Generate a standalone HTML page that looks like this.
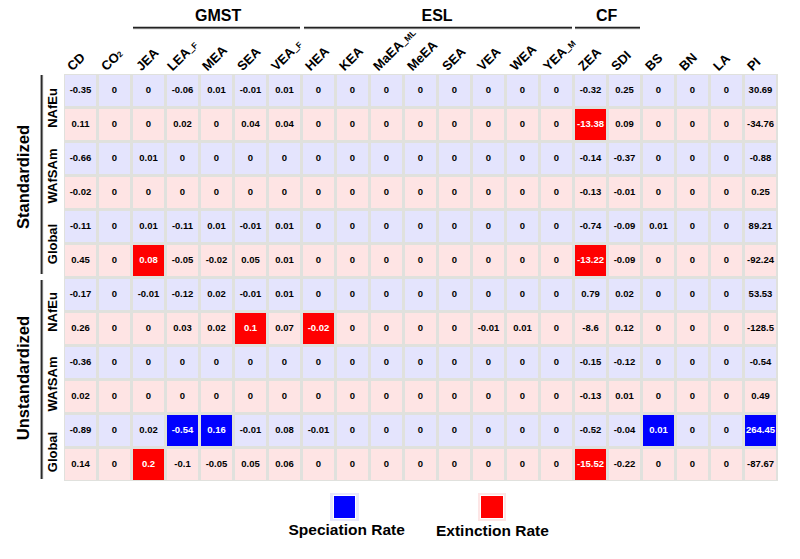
<!DOCTYPE html>
<html><head><meta charset="utf-8"><style>
*{margin:0;padding:0;box-sizing:border-box}
html,body{width:800px;height:559px;background:#fff;overflow:hidden}
body{position:relative;font-family:"Liberation Sans",sans-serif;color:#000}
.a{position:absolute}
.grid{position:absolute;left:64px;top:74px;width:714px;height:407px;background:#e0e1dd}
.c{position:absolute;width:31px;height:31px;font-weight:bold;font-size:9.5px;line-height:30px;text-align:center;color:#000}

.b{background:#e4e4fd}.p{background:#fee4e4}
.R{background:#ff0000;color:#fff}.B{background:#0000ff;color:#fff}
.hl{position:absolute;height:4px;top:26px;background:linear-gradient(180deg,#c4c4c4 0 1px,#222 1px 2px,#787878 2px 3px,#ececec 3px 4px)}
.vl{position:absolute;width:4px;left:40px;background:linear-gradient(90deg,#a8a8a8 0 1px,#2a2a2a 1px 2px,#7a7a7a 2px 3px,#eeeeee 3px 4px)}
.gt{position:absolute;font-weight:bold;font-size:16px;line-height:1;top:7.5px}
.cl{position:absolute;font-weight:bold;font-size:13px;line-height:1;white-space:nowrap;transform-origin:0 100%;transform:rotate(-45deg)}
.sm{font-size:8.5px;vertical-align:0.5px;margin-left:0.5px}
.us{-webkit-text-stroke:0.35px #000}
.sup2{font-size:8px;vertical-align:0px}
.rl{position:absolute;font-weight:bold;font-size:13px;line-height:1;white-space:nowrap;transform-origin:0 0;transform:rotate(-90deg);text-align:center}
.gl{position:absolute;font-weight:bold;font-size:16.6px;line-height:1;white-space:nowrap;transform-origin:0 0;transform:rotate(-90deg);text-align:center}
.lg{position:absolute;font-weight:bold;font-size:15.5px;line-height:1;white-space:nowrap}
</style></head><body>

<div class="gt" style="left:195px">GMST</div>
<div class="hl" style="left:133px;width:167px"></div>
<div class="gt" style="left:421.5px">ESL</div>
<div class="hl" style="left:304px;width:268px"></div>
<div class="gt" style="left:596px">CF</div>
<div class="hl" style="left:575px;width:65px"></div>
<div class="cl" style="left:73.5px;top:60px">CD</div>
<div class="cl" style="left:107.5px;top:60px">CO<span class='sup2'>2</span></div>
<div class="cl" style="left:142.5px;top:60px">JEA</div>
<div class="cl" style="left:174.0px;top:60px">LEA<span class='sm'><span class='us'>_</span>F</span></div>
<div class="cl" style="left:208.5px;top:60px">MEA</div>
<div class="cl" style="left:243.5px;top:60px">SEA</div>
<div class="cl" style="left:277.5px;top:60px">VEA<span class='sm'><span class='us'>_</span>F</span></div>
<div class="cl" style="left:311.5px;top:60px">HEA</div>
<div class="cl" style="left:345.5px;top:60px">KEA</div>
<div class="cl" style="left:379.5px;top:60px">MaEA<span class='sm'><span class='us'>_</span>ML</span></div>
<div class="cl" style="left:413.5px;top:60px">MeEA</div>
<div class="cl" style="left:449.0px;top:60px">SEA</div>
<div class="cl" style="left:484.0px;top:60px">VEA</div>
<div class="cl" style="left:516.5px;top:60px">WEA</div>
<div class="cl" style="left:550.3px;top:60px">YEA<span class='sm'><span class='us'>_</span>M</span></div>
<div class="cl" style="left:584.7px;top:60px">ZEA</div>
<div class="cl" style="left:617.5px;top:60px">SDI</div>
<div class="cl" style="left:651.5px;top:60px">BS</div>
<div class="cl" style="left:685.5px;top:60px">BN</div>
<div class="cl" style="left:719.5px;top:60px">LA</div>
<div class="cl" style="left:753.5px;top:60px">PI</div>
<div class="grid"></div>
<div class="c b" style="left:65px;top:75px">-0.35</div>
<div class="c b" style="left:99px;top:75px">0</div>
<div class="c b" style="left:133px;top:75px">0</div>
<div class="c b" style="left:167px;top:75px">-0.06</div>
<div class="c b" style="left:201px;top:75px">0.01</div>
<div class="c b" style="left:235px;top:75px">-0.01</div>
<div class="c b" style="left:269px;top:75px">0.01</div>
<div class="c b" style="left:303px;top:75px">0</div>
<div class="c b" style="left:337px;top:75px">0</div>
<div class="c b" style="left:371px;top:75px">0</div>
<div class="c b" style="left:405px;top:75px">0</div>
<div class="c b" style="left:439px;top:75px">0</div>
<div class="c b" style="left:473px;top:75px">0</div>
<div class="c b" style="left:507px;top:75px">0</div>
<div class="c b" style="left:541px;top:75px">0</div>
<div class="c b" style="left:575px;top:75px">-0.32</div>
<div class="c b" style="left:609px;top:75px">0.25</div>
<div class="c b" style="left:643px;top:75px">0</div>
<div class="c b" style="left:677px;top:75px">0</div>
<div class="c b" style="left:711px;top:75px">0</div>
<div class="c b" style="left:745px;top:75px">30.69</div>
<div class="c p" style="left:65px;top:109px">0.11</div>
<div class="c p" style="left:99px;top:109px">0</div>
<div class="c p" style="left:133px;top:109px">0</div>
<div class="c p" style="left:167px;top:109px">0.02</div>
<div class="c p" style="left:201px;top:109px">0</div>
<div class="c p" style="left:235px;top:109px">0.04</div>
<div class="c p" style="left:269px;top:109px">0.04</div>
<div class="c p" style="left:303px;top:109px">0</div>
<div class="c p" style="left:337px;top:109px">0</div>
<div class="c p" style="left:371px;top:109px">0</div>
<div class="c p" style="left:405px;top:109px">0</div>
<div class="c p" style="left:439px;top:109px">0</div>
<div class="c p" style="left:473px;top:109px">0</div>
<div class="c p" style="left:507px;top:109px">0</div>
<div class="c p" style="left:541px;top:109px">0</div>
<div class="c R" style="left:575px;top:109px">-13.38</div>
<div class="c p" style="left:609px;top:109px">0.09</div>
<div class="c p" style="left:643px;top:109px">0</div>
<div class="c p" style="left:677px;top:109px">0</div>
<div class="c p" style="left:711px;top:109px">0</div>
<div class="c p" style="left:745px;top:109px">-34.76</div>
<div class="c b" style="left:65px;top:143px">-0.66</div>
<div class="c b" style="left:99px;top:143px">0</div>
<div class="c b" style="left:133px;top:143px">0.01</div>
<div class="c b" style="left:167px;top:143px">0</div>
<div class="c b" style="left:201px;top:143px">0</div>
<div class="c b" style="left:235px;top:143px">0</div>
<div class="c b" style="left:269px;top:143px">0</div>
<div class="c b" style="left:303px;top:143px">0</div>
<div class="c b" style="left:337px;top:143px">0</div>
<div class="c b" style="left:371px;top:143px">0</div>
<div class="c b" style="left:405px;top:143px">0</div>
<div class="c b" style="left:439px;top:143px">0</div>
<div class="c b" style="left:473px;top:143px">0</div>
<div class="c b" style="left:507px;top:143px">0</div>
<div class="c b" style="left:541px;top:143px">0</div>
<div class="c b" style="left:575px;top:143px">-0.14</div>
<div class="c b" style="left:609px;top:143px">-0.37</div>
<div class="c b" style="left:643px;top:143px">0</div>
<div class="c b" style="left:677px;top:143px">0</div>
<div class="c b" style="left:711px;top:143px">0</div>
<div class="c b" style="left:745px;top:143px">-0.88</div>
<div class="c p" style="left:65px;top:177px">-0.02</div>
<div class="c p" style="left:99px;top:177px">0</div>
<div class="c p" style="left:133px;top:177px">0</div>
<div class="c p" style="left:167px;top:177px">0</div>
<div class="c p" style="left:201px;top:177px">0</div>
<div class="c p" style="left:235px;top:177px">0</div>
<div class="c p" style="left:269px;top:177px">0</div>
<div class="c p" style="left:303px;top:177px">0</div>
<div class="c p" style="left:337px;top:177px">0</div>
<div class="c p" style="left:371px;top:177px">0</div>
<div class="c p" style="left:405px;top:177px">0</div>
<div class="c p" style="left:439px;top:177px">0</div>
<div class="c p" style="left:473px;top:177px">0</div>
<div class="c p" style="left:507px;top:177px">0</div>
<div class="c p" style="left:541px;top:177px">0</div>
<div class="c p" style="left:575px;top:177px">-0.13</div>
<div class="c p" style="left:609px;top:177px">-0.01</div>
<div class="c p" style="left:643px;top:177px">0</div>
<div class="c p" style="left:677px;top:177px">0</div>
<div class="c p" style="left:711px;top:177px">0</div>
<div class="c p" style="left:745px;top:177px">0.25</div>
<div class="c b" style="left:65px;top:211px">-0.11</div>
<div class="c b" style="left:99px;top:211px">0</div>
<div class="c b" style="left:133px;top:211px">0.01</div>
<div class="c b" style="left:167px;top:211px">-0.11</div>
<div class="c b" style="left:201px;top:211px">0.01</div>
<div class="c b" style="left:235px;top:211px">-0.01</div>
<div class="c b" style="left:269px;top:211px">0.01</div>
<div class="c b" style="left:303px;top:211px">0</div>
<div class="c b" style="left:337px;top:211px">0</div>
<div class="c b" style="left:371px;top:211px">0</div>
<div class="c b" style="left:405px;top:211px">0</div>
<div class="c b" style="left:439px;top:211px">0</div>
<div class="c b" style="left:473px;top:211px">0</div>
<div class="c b" style="left:507px;top:211px">0</div>
<div class="c b" style="left:541px;top:211px">0</div>
<div class="c b" style="left:575px;top:211px">-0.74</div>
<div class="c b" style="left:609px;top:211px">-0.09</div>
<div class="c b" style="left:643px;top:211px">0.01</div>
<div class="c b" style="left:677px;top:211px">0</div>
<div class="c b" style="left:711px;top:211px">0</div>
<div class="c b" style="left:745px;top:211px">89.21</div>
<div class="c p" style="left:65px;top:245px">0.45</div>
<div class="c p" style="left:99px;top:245px">0</div>
<div class="c R" style="left:133px;top:245px">0.08</div>
<div class="c p" style="left:167px;top:245px">-0.05</div>
<div class="c p" style="left:201px;top:245px">-0.02</div>
<div class="c p" style="left:235px;top:245px">0.05</div>
<div class="c p" style="left:269px;top:245px">0.01</div>
<div class="c p" style="left:303px;top:245px">0</div>
<div class="c p" style="left:337px;top:245px">0</div>
<div class="c p" style="left:371px;top:245px">0</div>
<div class="c p" style="left:405px;top:245px">0</div>
<div class="c p" style="left:439px;top:245px">0</div>
<div class="c p" style="left:473px;top:245px">0</div>
<div class="c p" style="left:507px;top:245px">0</div>
<div class="c p" style="left:541px;top:245px">0</div>
<div class="c R" style="left:575px;top:245px">-13.22</div>
<div class="c p" style="left:609px;top:245px">-0.09</div>
<div class="c p" style="left:643px;top:245px">0</div>
<div class="c p" style="left:677px;top:245px">0</div>
<div class="c p" style="left:711px;top:245px">0</div>
<div class="c p" style="left:745px;top:245px">-92.24</div>
<div class="c b" style="left:65px;top:279px">-0.17</div>
<div class="c b" style="left:99px;top:279px">0</div>
<div class="c b" style="left:133px;top:279px">-0.01</div>
<div class="c b" style="left:167px;top:279px">-0.12</div>
<div class="c b" style="left:201px;top:279px">0.02</div>
<div class="c b" style="left:235px;top:279px">-0.01</div>
<div class="c b" style="left:269px;top:279px">0.01</div>
<div class="c b" style="left:303px;top:279px">0</div>
<div class="c b" style="left:337px;top:279px">0</div>
<div class="c b" style="left:371px;top:279px">0</div>
<div class="c b" style="left:405px;top:279px">0</div>
<div class="c b" style="left:439px;top:279px">0</div>
<div class="c b" style="left:473px;top:279px">0</div>
<div class="c b" style="left:507px;top:279px">0</div>
<div class="c b" style="left:541px;top:279px">0</div>
<div class="c b" style="left:575px;top:279px">0.79</div>
<div class="c b" style="left:609px;top:279px">0.02</div>
<div class="c b" style="left:643px;top:279px">0</div>
<div class="c b" style="left:677px;top:279px">0</div>
<div class="c b" style="left:711px;top:279px">0</div>
<div class="c b" style="left:745px;top:279px">53.53</div>
<div class="c p" style="left:65px;top:313px">0.26</div>
<div class="c p" style="left:99px;top:313px">0</div>
<div class="c p" style="left:133px;top:313px">0</div>
<div class="c p" style="left:167px;top:313px">0.03</div>
<div class="c p" style="left:201px;top:313px">0.02</div>
<div class="c R" style="left:235px;top:313px">0.1</div>
<div class="c p" style="left:269px;top:313px">0.07</div>
<div class="c R" style="left:303px;top:313px">-0.02</div>
<div class="c p" style="left:337px;top:313px">0</div>
<div class="c p" style="left:371px;top:313px">0</div>
<div class="c p" style="left:405px;top:313px">0</div>
<div class="c p" style="left:439px;top:313px">0</div>
<div class="c p" style="left:473px;top:313px">-0.01</div>
<div class="c p" style="left:507px;top:313px">0.01</div>
<div class="c p" style="left:541px;top:313px">0</div>
<div class="c p" style="left:575px;top:313px">-8.6</div>
<div class="c p" style="left:609px;top:313px">0.12</div>
<div class="c p" style="left:643px;top:313px">0</div>
<div class="c p" style="left:677px;top:313px">0</div>
<div class="c p" style="left:711px;top:313px">0</div>
<div class="c p" style="left:745px;top:313px">-128.5</div>
<div class="c b" style="left:65px;top:347px">-0.36</div>
<div class="c b" style="left:99px;top:347px">0</div>
<div class="c b" style="left:133px;top:347px">0</div>
<div class="c b" style="left:167px;top:347px">0</div>
<div class="c b" style="left:201px;top:347px">0</div>
<div class="c b" style="left:235px;top:347px">0</div>
<div class="c b" style="left:269px;top:347px">0</div>
<div class="c b" style="left:303px;top:347px">0</div>
<div class="c b" style="left:337px;top:347px">0</div>
<div class="c b" style="left:371px;top:347px">0</div>
<div class="c b" style="left:405px;top:347px">0</div>
<div class="c b" style="left:439px;top:347px">0</div>
<div class="c b" style="left:473px;top:347px">0</div>
<div class="c b" style="left:507px;top:347px">0</div>
<div class="c b" style="left:541px;top:347px">0</div>
<div class="c b" style="left:575px;top:347px">-0.15</div>
<div class="c b" style="left:609px;top:347px">-0.12</div>
<div class="c b" style="left:643px;top:347px">0</div>
<div class="c b" style="left:677px;top:347px">0</div>
<div class="c b" style="left:711px;top:347px">0</div>
<div class="c b" style="left:745px;top:347px">-0.54</div>
<div class="c p" style="left:65px;top:381px">0.02</div>
<div class="c p" style="left:99px;top:381px">0</div>
<div class="c p" style="left:133px;top:381px">0</div>
<div class="c p" style="left:167px;top:381px">0</div>
<div class="c p" style="left:201px;top:381px">0</div>
<div class="c p" style="left:235px;top:381px">0</div>
<div class="c p" style="left:269px;top:381px">0</div>
<div class="c p" style="left:303px;top:381px">0</div>
<div class="c p" style="left:337px;top:381px">0</div>
<div class="c p" style="left:371px;top:381px">0</div>
<div class="c p" style="left:405px;top:381px">0</div>
<div class="c p" style="left:439px;top:381px">0</div>
<div class="c p" style="left:473px;top:381px">0</div>
<div class="c p" style="left:507px;top:381px">0</div>
<div class="c p" style="left:541px;top:381px">0</div>
<div class="c p" style="left:575px;top:381px">-0.13</div>
<div class="c p" style="left:609px;top:381px">0.01</div>
<div class="c p" style="left:643px;top:381px">0</div>
<div class="c p" style="left:677px;top:381px">0</div>
<div class="c p" style="left:711px;top:381px">0</div>
<div class="c p" style="left:745px;top:381px">0.49</div>
<div class="c b" style="left:65px;top:415px">-0.89</div>
<div class="c b" style="left:99px;top:415px">0</div>
<div class="c b" style="left:133px;top:415px">0.02</div>
<div class="c B" style="left:167px;top:415px">-0.54</div>
<div class="c B" style="left:201px;top:415px">0.16</div>
<div class="c b" style="left:235px;top:415px">-0.01</div>
<div class="c b" style="left:269px;top:415px">0.08</div>
<div class="c b" style="left:303px;top:415px">-0.01</div>
<div class="c b" style="left:337px;top:415px">0</div>
<div class="c b" style="left:371px;top:415px">0</div>
<div class="c b" style="left:405px;top:415px">0</div>
<div class="c b" style="left:439px;top:415px">0</div>
<div class="c b" style="left:473px;top:415px">0</div>
<div class="c b" style="left:507px;top:415px">0</div>
<div class="c b" style="left:541px;top:415px">0</div>
<div class="c b" style="left:575px;top:415px">-0.52</div>
<div class="c b" style="left:609px;top:415px">-0.04</div>
<div class="c B" style="left:643px;top:415px">0.01</div>
<div class="c b" style="left:677px;top:415px">0</div>
<div class="c b" style="left:711px;top:415px">0</div>
<div class="c B" style="left:745px;top:415px">264.45</div>
<div class="c p" style="left:65px;top:449px">0.14</div>
<div class="c p" style="left:99px;top:449px">0</div>
<div class="c R" style="left:133px;top:449px">0.2</div>
<div class="c p" style="left:167px;top:449px">-0.1</div>
<div class="c p" style="left:201px;top:449px">-0.05</div>
<div class="c p" style="left:235px;top:449px">0.05</div>
<div class="c p" style="left:269px;top:449px">0.06</div>
<div class="c p" style="left:303px;top:449px">0</div>
<div class="c p" style="left:337px;top:449px">0</div>
<div class="c p" style="left:371px;top:449px">0</div>
<div class="c p" style="left:405px;top:449px">0</div>
<div class="c p" style="left:439px;top:449px">0</div>
<div class="c p" style="left:473px;top:449px">0</div>
<div class="c p" style="left:507px;top:449px">0</div>
<div class="c p" style="left:541px;top:449px">0</div>
<div class="c R" style="left:575px;top:449px">-15.52</div>
<div class="c p" style="left:609px;top:449px">-0.22</div>
<div class="c p" style="left:643px;top:449px">0</div>
<div class="c p" style="left:677px;top:449px">0</div>
<div class="c p" style="left:711px;top:449px">0</div>
<div class="c p" style="left:745px;top:449px">-87.67</div>
<div class="rl" style="left:46.4px;top:147.5px;width:80px">NAfEu</div>
<div class="rl" style="left:46.4px;top:215.5px;width:80px">WAfSAm</div>
<div class="rl" style="left:46.4px;top:283.5px;width:80px">Global</div>
<div class="rl" style="left:46.4px;top:351.5px;width:80px">NAfEu</div>
<div class="rl" style="left:46.4px;top:423.5px;width:80px">WAfSAm</div>
<div class="rl" style="left:46.4px;top:491.5px;width:80px">Global</div>
<div class="gl" style="left:15.8px;top:277.2px;width:200px">Standardized</div>
<div class="gl" style="left:15.8px;top:478.4px;width:200px">Unstandardized</div>
<div class="vl" style="top:75px;height:199px"></div>
<div class="vl" style="top:280px;height:199px"></div>
<div class="a" style="left:330px;top:493px;width:29px;height:28px;background:#e8e8fc"></div>
<div class="a" style="left:333px;top:495px;width:23px;height:24px;background:#fff"></div>
<div class="a" style="left:334px;top:496px;width:21px;height:22px;background:#0000ff"></div>
<div class="a" style="left:478px;top:493px;width:28px;height:28px;background:#fde6e6"></div>
<div class="a" style="left:480px;top:495px;width:24px;height:24px;background:#fff"></div>
<div class="a" style="left:481px;top:496px;width:22px;height:22px;background:#ff0000"></div>
<div class="lg" style="left:288.5px;top:522.3px">Speciation Rate</div>
<div class="lg" style="left:436px;top:523.3px">Extinction Rate</div>
</body></html>
